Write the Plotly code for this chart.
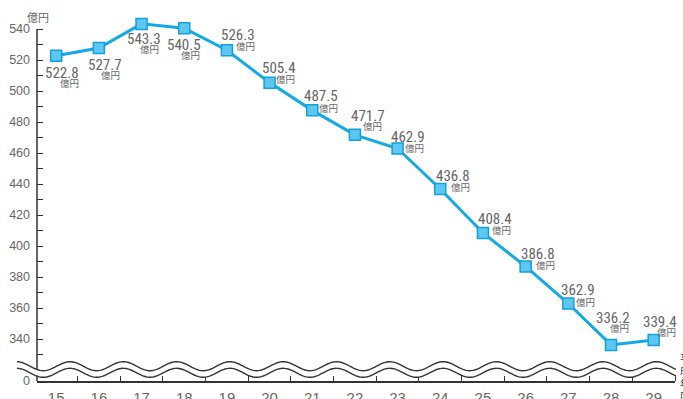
import numpy as np
import plotly.graph_objects as go

# 年度（平成）と金額（億円）
years = [15, 16, 17, 18, 19, 20, 21, 22, 23, 24, 25, 26, 27, 28, 29]
amounts = [522.8, 527.7, 543.3, 540.5, 526.3, 505.4, 487.5, 471.7, 462.9, 436.8, 408.4, 386.8, 362.9, 336.2, 339.4]

# y axis: the span below 340 is compressed by a break, so "0" sits at the axis floor
Y_FLOOR = 312.9
Y_AXIS_END = 540
major_vals = [340, 360, 380, 400, 420, 440, 460, 480, 500, 520, 540]
major_text = [str(v) for v in major_vals]
minor_vals = [330, 350, 370, 390, 410, 430, 450, 470, 490, 510, 530]

# label placement around each marker (value text, unit text), in px
label_offsets = [
    ((6, 17), (13, 27)), ((6, 17), (12, 27)), ((2, 15), (8, 25)), ((0, 17), (6, 27)),
    ((11, -15), (19, -4)), ((9, -15), (16, -4)), ((9, -14), (16, -2)), ((13, -19), (18, -9)),
    ((10, -12), (17, -1)), ((13, -13), (20, -2)), ((12, -14), (19, -3)), ((12, -12), (20, -1)),
    ((10, -14), (17, -2)), ((2, -27), (9, -17)), ((6, -18), (13, -8)),
]

W, H = 683, 399
ML, MR, MT, MB = 37, 8, 17, 18
PW, PH = W - ML - MR, H - MT - MB
PX_PER_UNIT = 1.55
Y_TOP = Y_FLOOR + PH / PX_PER_UNIT   # headroom above the 540 tick for the peak marker

LINE_BLUE = "#12A9E6"
TEXT_GRAY = "#666666"
AXIS_DARK = "#333333"
NUM_FONT = "Liberation Sans Narrow, Roboto Condensed, Liberation Sans, sans-serif"

fig = go.Figure()
fig.add_trace(go.Scatter(
    x=years, y=amounts, mode="lines+markers",
    line=dict(color=LINE_BLUE, width=3),
    marker=dict(symbol="square", size=11, color="#5CC8F2",
                line=dict(color="#159FDB", width=1.5)),
    cliponaxis=False, hoverinfo="skip", showlegend=False,
))

annotations = []
for yr, val, (vo, uo) in zip(years, amounts, label_offsets):
    annotations.append(dict(
        x=yr, y=val, xref="x", yref="y", text=f"{val:.1f}", showarrow=False,
        xshift=vo[0], yshift=-vo[1],
        font=dict(family=NUM_FONT, size=15, color=TEXT_GRAY),
    ))
    annotations.append(dict(
        x=yr, y=val, xref="x", yref="y", text="億円", showarrow=False,
        xshift=uo[0], yshift=-uo[1],
        font=dict(family="Noto Sans CJK JP", size=9.5, color=TEXT_GRAY),
    ))


def px_to_paper(px, py):
    return (px - ML) / PW, (H - MB - py) / PH


# axis unit
ux, uy = px_to_paper(37.5, 16.5)
annotations.append(dict(
    xref="paper", yref="paper", x=ux, y=uy, xanchor="center", yanchor="middle",
    text="億円", showarrow=False,
    font=dict(family="Noto Sans CJK JP", size=11, color=TEXT_GRAY),
))
# axis title at the right end (vertical)
tx, ty = px_to_paper(678, 376)
annotations.append(dict(
    xref="paper", yref="paper", x=tx, y=ty,
    xanchor="left", yanchor="middle", align="left",
    text="平<br>成<br>年<br>度", showarrow=False,
    font=dict(family="Noto Sans CJK JP", size=9.5, color=AXIS_DARK),
))

# wavy break marks across the lower part of the chart
xs = np.linspace(17, 676, 400)
phase = np.cos(2 * np.pi * (xs - 70) / 53.3)
upper = 366.2 - 4.5 * phase
lower = 372.8 - 4.5 * phase


def poly(xarr, yarr):
    pts = [px_to_paper(a, b) for a, b in zip(xarr, yarr)]
    return "M " + " L ".join(f"{a:.5f},{b:.5f}" for a, b in pts)


band = poly(np.concatenate([xs, xs[::-1]]), np.concatenate([upper, lower[::-1]])) + " Z"
shapes = [
    # y axis line, stopping at the 540 tick
    dict(type="line", xref="paper", yref="y", x0=0, x1=0, y0=Y_FLOOR, y1=Y_AXIS_END,
         line=dict(color=AXIS_DARK, width=1.5), layer="above"),
    dict(type="path", xref="paper", yref="paper", path=band,
         fillcolor="white", line=dict(width=0), layer="above"),
    dict(type="path", xref="paper", yref="paper", path=poly(xs, upper),
         line=dict(color=AXIS_DARK, width=1.4), layer="above"),
    dict(type="path", xref="paper", yref="paper", path=poly(xs, lower),
         line=dict(color=AXIS_DARK, width=1.4), layer="above"),
]

boundaries = [y + 0.5 for y in years]

fig.update_layout(
    width=W, height=H,
    margin=dict(l=ML, r=MR, t=MT, b=MB, autoexpand=False),
    paper_bgcolor="white", plot_bgcolor="white",
    annotations=annotations, shapes=shapes,
    xaxis=dict(
        range=[14.55, 29.5], automargin=False,
        showline=True, linecolor=AXIS_DARK, linewidth=1.5,
        tickmode="array", tickvals=years, ticktext=[str(y) for y in years],
        ticks="", ticklabelstandoff=2,
        minor=dict(tickmode="array", tickvals=boundaries, ticks="inside",
                   ticklen=5, tickwidth=1.3, tickcolor=AXIS_DARK),
        showgrid=False, zeroline=False,
        tickfont=dict(family="Liberation Sans", size=15, color=TEXT_GRAY),
        fixedrange=True,
    ),
    yaxis=dict(
        range=[Y_FLOOR, Y_TOP], automargin=False,
        showline=False,
        tickmode="array", tickvals=[Y_FLOOR] + major_vals, ticktext=["0"] + major_text,
        ticks="inside", ticklen=6, tickwidth=1.3, tickcolor=AXIS_DARK,
        ticklabelstandoff=6,
        minor=dict(tickmode="array", tickvals=minor_vals, ticks="inside",
                   ticklen=6, tickwidth=1.3, tickcolor=AXIS_DARK),
        showgrid=False, zeroline=False,
        tickfont=dict(family="Liberation Sans", size=12.5, color=TEXT_GRAY),
        fixedrange=True,
    ),
)

fig.write_html("out.html")
